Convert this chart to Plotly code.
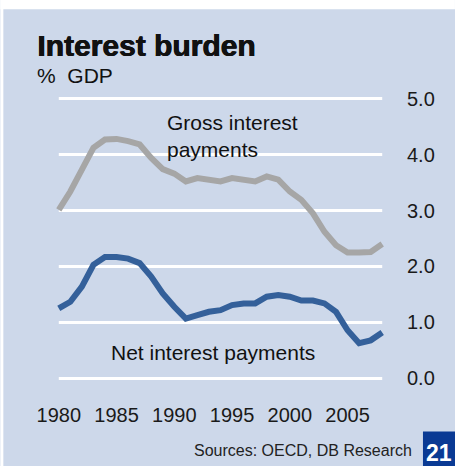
import plotly.graph_objects as go

# Interest burden, % of GDP
years = list(range(1980, 2009))
gross_interest = [3.01, 3.34, 3.73, 4.12, 4.27, 4.28, 4.24, 4.18, 3.94, 3.74,
                  3.66, 3.52, 3.58, 3.55, 3.52, 3.58, 3.56, 3.52, 3.61, 3.55,
                  3.34, 3.19, 2.95, 2.62, 2.38, 2.25, 2.25, 2.26, 2.40]
net_interest = [1.25, 1.37, 1.64, 2.03, 2.17, 2.17, 2.14, 2.06, 1.82, 1.52,
                1.28, 1.07, 1.13, 1.19, 1.22, 1.31, 1.34, 1.34, 1.46, 1.49,
                1.46, 1.39, 1.39, 1.34, 1.19, 0.86, 0.63, 0.68, 0.82]
y_ticks = [0, 1, 2, 3, 4, 5]
y_tick_labels = ["0.0", "1.0", "2.0", "3.0", "4.0", "5.0"]
x_ticks = [1980, 1985, 1990, 1995, 2000, 2005]

W, H = 455, 466
BG = "#CDD8EA"
GROSS = "#A6A6A6"
NET = "#34609A"
FONT = "Liberation Sans, Arial, sans-serif"

# plot area geometry (pixels)
L, R, T, B = 52.7, 67.0, 93.4, 82.4
PW, PH = W - L - R, H - T - B


def px(x):
    return (x - L) / PW


def py(y):
    return (H - B - y) / PH


fig = go.Figure()
fig.add_trace(go.Scatter(x=years, y=gross_interest, mode="lines",
                         line=dict(color=GROSS, width=6), hoverinfo="skip"))
fig.add_trace(go.Scatter(x=years, y=net_interest, mode="lines",
                         line=dict(color=NET, width=6), hoverinfo="skip"))

shapes = []
# white horizontal grid lines
for v in y_ticks:
    shapes.append(dict(type="line", xref="x", yref="y", x0=years[0], x1=years[-1],
                       y0=v, y1=v, line=dict(color="white", width=3), layer="below"))
# white page edges
shapes.append(dict(type="rect", xref="paper", yref="paper", x0=px(0), x1=px(W),
                   y0=py(10), y1=py(0), fillcolor="white", line=dict(width=0), layer="below"))
shapes.append(dict(type="rect", xref="paper", yref="paper", x0=px(0), x1=px(3),
                   y0=py(H), y1=py(0), fillcolor="white", line=dict(width=0), layer="below"))
# page-number box
shapes.append(dict(type="rect", xref="paper", yref="paper", x0=px(423), x1=px(W + 2),
                   y0=py(H + 2), y1=py(431), fillcolor="#0A3A94", line=dict(width=0)))

annotations = [
    dict(text="<b>Interest burden</b>", x=px(35), y=py(64), xanchor="left", yanchor="bottom",
         font=dict(size=30, color="#111111", family=FONT,
                   shadow="0.8px 0 0 #111111, 0.4px 0 0 #111111")),
    dict(text="%  GDP", x=px(35), y=py(62), xanchor="left", yanchor="top",
         font=dict(size=21, color="#111111", family=FONT)),
    dict(text="Gross interest<br>payments", x=px(165), y=py(109), xanchor="left", yanchor="top",
         align="left", font=dict(size=21, color="#111111", family=FONT)),
    dict(text="Net interest payments", x=px(109), y=py(352), xanchor="left", yanchor="middle",
         font=dict(size=21, color="#111111", family=FONT)),
    dict(text="Sources: OECD, DB Research", x=px(414), y=py(450), xanchor="right", yanchor="middle",
         font=dict(size=16, color="#222222", family=FONT)),
    dict(text="<b>21</b>", x=px(439.5), y=py(452), xanchor="center", yanchor="middle",
         font=dict(size=23, color="white", family=FONT)),
]
for a in annotations:
    a.update(xref="paper", yref="paper", showarrow=False)

fig.update_layout(
    width=W, height=H,
    margin=dict(l=L, r=R, t=T, b=B, pad=0),
    paper_bgcolor=BG, plot_bgcolor=BG,
    showlegend=False,
    shapes=shapes,
    annotations=annotations,
    xaxis=dict(range=[1979.5, 2008.5], tickvals=x_ticks, showgrid=False, zeroline=False,
               showline=False, ticks="outside", ticklen=13, tickcolor=BG,
               tickfont=dict(size=20, color="#1a1a1a", family=FONT), fixedrange=True),
    yaxis=dict(range=[-0.1, 5.1], tickvals=y_ticks, ticktext=y_tick_labels, side="right",
               showgrid=False, zeroline=False, showline=False, ticks="outside", ticklen=14,
               tickcolor=BG, tickfont=dict(size=20, color="#1a1a1a", family=FONT),
               fixedrange=True),
)

fig.write_html("out.html", config={"displayModeBar": False})
